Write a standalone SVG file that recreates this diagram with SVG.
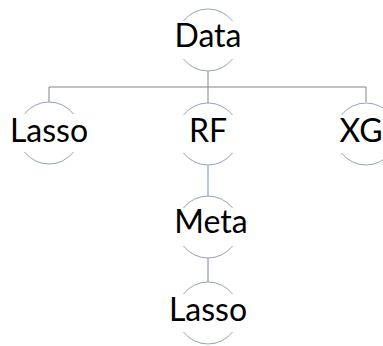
<svg xmlns="http://www.w3.org/2000/svg" width="383" height="346" viewBox="0 0 383 346">
  <style>
    .ring { fill: none; stroke: #95A3B9; stroke-width: 1; }
    .label { font-family: Lato, "Liberation Sans", sans-serif; font-size: 32px; fill: #000; text-anchor: middle; }
    .link { fill: none; stroke: #7F8590; stroke-width: 1; }
    .link-blue { fill: none; stroke: #6A8FD0; stroke-width: 1; }
  </style>
  <defs>
    <!-- open ring: top and bottom arcs only, sides left clear for the label -->
    <path id="ring" class="ring" d="M -24.5 -19 A 31 31 0 0 1 24.5 -19 M -24.5 19 A 31 31 0 0 0 24.5 19"/>
  </defs>

  <g id="connectors">
    <path class="link" d="M 208 71 V 87 M 49 102 V 87 H 366 V 102 M 208 87 V 103"/>
    <path class="link-blue" d="M 208 165 V 196"/>
    <path class="link" d="M 208 258 V 282"/>
  </g>

  <g id="node-data">
    <use href="#ring" x="208" y="40"/>
    <text class="label" x="208" y="47">Data</text>
  </g>
  <g id="node-lasso-left">
    <use href="#ring" x="49" y="133"/>
    <text class="label" x="49" y="142">Lasso</text>
  </g>
  <g id="node-rf">
    <use href="#ring" x="208" y="134"/>
    <text class="label" x="208" y="142">RF</text>
  </g>
  <g id="node-xg">
    <use href="#ring" x="366" y="134"/>
    <text class="label" x="361" y="142">XG</text>
  </g>
  <g id="node-meta">
    <use href="#ring" x="208" y="227"/>
    <text class="label" x="211" y="233">Meta</text>
  </g>
  <g id="node-lasso-bottom">
    <use href="#ring" x="208" y="313"/>
    <text class="label" x="208" y="321">Lasso</text>
  </g>
</svg>
